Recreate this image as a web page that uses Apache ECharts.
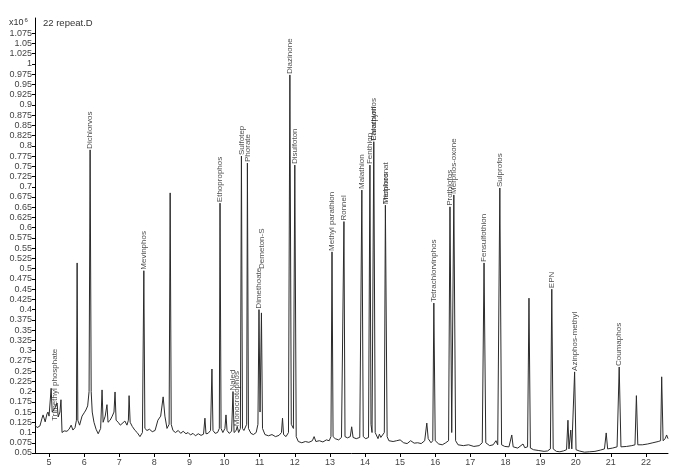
<!DOCTYPE html>
<html>
<head>
<meta charset="utf-8">
<script src="https://cdn.jsdelivr.net/npm/echarts@6/dist/echarts.min.js"></script>
<style>
html,body{margin:0;padding:0;background:#fff;}
#chart{width:697px;height:472px;}
</style>
</head>
<body>
<div id="chart"></div>
<script>
// Retention time (min) and abundance (x10^6)
const times = [
 4.60,4.66,4.74,4.80,4.83,4.89,4.94,4.97,5.00,5.06,5.09,5.12,5.17,5.23,5.26,5.31,5.34,5.37,5.43,5.51,
 5.57,5.63,5.68,5.74,5.78,5.80,5.82,5.87,5.94,6.00,6.05,6.10,6.14,6.17,6.20,6.23,6.28,6.34,6.40,6.47,
 6.51,6.54,6.60,6.65,6.68,6.74,6.80,6.85,6.88,6.91,6.97,7.03,7.08,7.16,7.22,7.26,7.28,7.31,7.37,7.45,
 7.51,7.59,7.66,7.70,7.73,7.79,7.86,7.94,8.02,8.10,8.18,8.25,8.30,8.36,8.42,8.45,8.48,8.53,8.60,8.68,
 8.75,8.82,8.90,8.96,9.03,9.10,9.17,9.25,9.33,9.40,9.44,9.47,9.53,9.60,9.64,9.67,9.73,9.80,9.85,9.87,
 9.90,9.95,10.01,10.04,10.07,10.13,10.20,10.24,10.27,10.33,10.36,10.40,10.45,10.48,10.51,10.55,10.63,10.65,10.68,10.75,
 10.82,10.90,10.95,10.98,11.01,11.05,11.08,11.15,11.25,11.35,11.45,11.55,11.62,11.65,11.68,11.75,11.82,11.86,11.90,11.96,
 12.00,12.04,12.10,12.20,12.30,12.40,12.50,12.55,12.60,12.70,12.80,12.90,12.98,13.03,13.06,13.09,13.15,13.25,13.33,13.38,
 13.40,13.43,13.50,13.58,13.62,13.66,13.75,13.85,13.91,13.95,14.02,14.10,14.14,14.17,14.20,14.25,14.29,14.33,14.37,14.41,
 14.45,14.50,14.55,14.58,14.63,14.68,14.80,14.90,15.00,15.10,15.20,15.30,15.40,15.50,15.60,15.70,15.76,15.80,15.88,15.93,
 15.96,16.00,16.10,16.20,16.30,16.38,16.42,16.47,16.53,16.58,16.65,16.80,16.95,17.10,17.25,17.34,17.39,17.44,17.55,17.65,
 17.73,17.78,17.84,17.89,17.98,18.10,18.18,18.22,18.35,18.50,18.55,18.63,18.67,18.71,18.80,18.95,19.10,19.20,19.28,19.32,
 19.36,19.45,19.55,19.65,19.74,19.78,19.81,19.86,19.89,19.93,19.97,20.01,20.10,20.25,20.40,20.55,20.70,20.82,20.87,20.91,
 21.05,21.18,21.24,21.29,21.45,21.60,21.69,21.73,21.77,21.90,22.05,22.20,22.35,22.42,22.45,22.49,22.55,22.59,22.63
];
const abundance = [
 0.118,0.112,0.116,0.135,0.143,0.126,0.145,0.150,0.140,0.208,0.150,0.146,0.160,0.172,0.138,0.150,0.180,0.100,0.104,0.103,
 0.108,0.118,0.106,0.112,0.130,0.514,0.130,0.118,0.140,0.148,0.155,0.165,0.200,0.790,0.200,0.150,0.125,0.108,0.097,0.110,
 0.204,0.125,0.140,0.168,0.125,0.130,0.140,0.150,0.199,0.130,0.125,0.118,0.120,0.128,0.118,0.130,0.190,0.125,0.115,0.105,
 0.100,0.090,0.100,0.495,0.110,0.105,0.108,0.102,0.105,0.130,0.140,0.187,0.140,0.110,0.120,0.685,0.120,0.105,0.100,0.105,
 0.098,0.103,0.097,0.100,0.094,0.098,0.092,0.097,0.093,0.096,0.135,0.097,0.098,0.105,0.255,0.105,0.098,0.100,0.110,0.660,
 0.110,0.100,0.110,0.143,0.105,0.098,0.103,0.200,0.100,0.105,0.115,0.100,0.110,0.775,0.110,0.105,0.120,0.758,0.110,0.098,
 0.095,0.100,0.120,0.400,0.150,0.392,0.110,0.095,0.092,0.095,0.090,0.093,0.100,0.135,0.095,0.090,0.100,0.973,0.120,0.110,
 0.753,0.090,0.078,0.075,0.078,0.076,0.080,0.090,0.078,0.080,0.077,0.082,0.080,0.090,0.541,0.090,0.085,0.082,0.088,0.090,
 0.615,0.090,0.087,0.090,0.114,0.088,0.085,0.088,0.692,0.090,0.085,0.088,0.753,0.120,0.100,0.810,0.100,0.096,0.085,0.096,
 0.088,0.090,0.100,0.655,0.090,0.080,0.078,0.080,0.082,0.075,0.073,0.080,0.074,0.075,0.073,0.080,0.123,0.085,0.075,0.080,
 0.416,0.080,0.072,0.070,0.075,0.080,0.651,0.100,0.680,0.080,0.070,0.068,0.070,0.066,0.068,0.075,0.514,0.075,0.068,0.070,
 0.080,0.070,0.697,0.070,0.066,0.065,0.094,0.065,0.062,0.072,0.063,0.065,0.428,0.062,0.058,0.056,0.054,0.055,0.060,0.450,
 0.060,0.054,0.053,0.055,0.058,0.130,0.060,0.106,0.060,0.058,0.248,0.058,0.055,0.052,0.053,0.054,0.057,0.060,0.099,0.060,
 0.062,0.065,0.260,0.065,0.066,0.068,0.070,0.190,0.070,0.070,0.072,0.075,0.078,0.080,0.236,0.080,0.085,0.094,0.085
];

// Peak annotations: compound name, retention time, height where the name sits
const peakNames = ["Trimethyl phosphate","Dichlorvos","Mevinphos","Ethoprophos","Naled","Monocrotophos",
 "Sulfotep","Phorate","Dimethoate","Demeton-S","Diazinone","Disulfoton","Methyl parathion","Ronnel",
 "Malathion","Fenthion","Chlorpyrifos","Parathion","Merphos","Trichloronat","Tetrachlorvinphos",
 "Prothiofos","Merphos-oxone","Fensulfothion","Sulprofos","EPN","Azinphos-methyl","Coumaphos"];
const peakTimes = [5.17,6.17,7.70,9.87,10.24,10.36,10.48,10.65,10.98,11.05,11.86,12.00,13.06,13.40,
 13.91,14.14,14.25,14.26,14.58,14.59,15.96,16.42,16.53,17.39,17.84,19.32,19.97,21.24];
const peakHeights = [0.126,0.790,0.495,0.660,0.200,0.113,0.775,0.758,0.400,0.497,0.973,0.753,0.541,0.615,
 0.692,0.753,0.810,0.810,0.655,0.655,0.416,0.651,0.680,0.514,0.697,0.450,0.248,0.260];

const xTicks = [5,6,7,8,9,10,11,12,13,14,15,16,17,18,19,20,21,22];
const yTicks = [0.05,0.075,0.1,0.125,0.15,0.175,0.2,0.225,0.25,0.275,0.3,0.325,0.35,0.375,0.4,0.425,0.45,
 0.475,0.5,0.525,0.55,0.575,0.6,0.625,0.65,0.675,0.7,0.725,0.75,0.775,0.8,0.825,0.85,0.875,0.9,0.925,
 0.95,0.975,1,1.025,1.05,1.075];

const trace = times.map((t, i) => [t, abundance[i]]);
const peaks = peakNames.map((n, i) => ({ name: n, value: [peakTimes[i], peakHeights[i]] }));

const chart = echarts.init(document.getElementById('chart'), null, { renderer: 'canvas' });
const font = '"Liberation Sans", Arial, sans-serif';
chart.setOption({
  animation: false,
  backgroundColor: '#ffffff',
  title: [
    { text: '{a|x10}{b|6}', left: 4, top: 12,
      textStyle: { fontWeight: 'normal', rich: {
        a: { fontSize: 9, color: '#333', fontFamily: font, fontWeight: 'normal' },
        b: { fontSize: 6, color: '#333', fontFamily: font, fontWeight: 'normal', verticalAlign: 'top', padding: [0,0,6,1] } } } },
    { text: '22 repeat.D', left: 38, top: 13,
      textStyle: { fontSize: 9.5, fontWeight: 'normal', color: '#333', fontFamily: font } }
  ],
  grid: { left: 35, right: 29, top: 18, bottom: 19 },
  xAxis: {
    type: 'value', min: 4.6, max: 22.63,
    splitLine: { show: false },
    axisLine: { lineStyle: { color: '#000', width: 1 } },
    axisTick: { show: true, length: 4, customValues: xTicks, lineStyle: { color: '#000' } },
    axisLabel: { customValues: xTicks, fontSize: 9, color: '#444', fontFamily: font, margin: 5 }
  },
  yAxis: {
    type: 'value', min: 0.05, max: 1.112,
    splitLine: { show: false },
    axisLine: { show: true, lineStyle: { color: '#000', width: 1 } },
    axisTick: { show: true, length: 3, customValues: yTicks, lineStyle: { color: '#000' } },
    axisLabel: { customValues: yTicks, fontSize: 9, color: '#444', fontFamily: font, margin: 3,
      formatter: v => String(parseFloat(v.toFixed(4))) }
  },
  series: [
    { type: 'line', data: trace, showSymbol: false, symbol: 'none', silent: true,
      lineStyle: { color: '#2b2b2b', width: 1 } },
    { type: 'scatter', data: peaks, symbolSize: 0, silent: true, z: 5,
      label: { show: true, formatter: p => p.name, position: 'top', distance: 1,
        rotate: 90, align: 'left', verticalAlign: 'middle',
        fontSize: 8, color: '#222', fontFamily: font } }
  ]
});
</script>
</body>
</html>
